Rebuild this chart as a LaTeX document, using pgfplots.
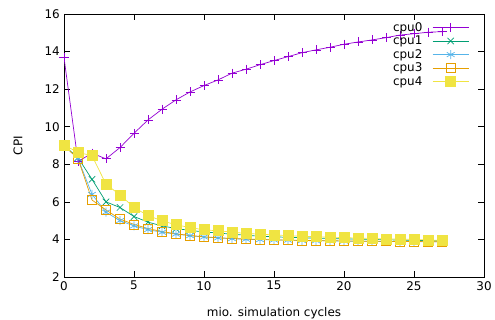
\documentclass[border=0pt]{standalone}
\usepackage{pgfplots}
\pgfplotsset{compat=1.18}
\usepackage{fontspec}
\setmainfont{DejaVu Sans}
\definecolor{c0}{HTML}{9400D3}
\definecolor{c1}{HTML}{009E73}
\definecolor{c2}{HTML}{56B4E9}
\definecolor{c3}{HTML}{E69F00}
\definecolor{c4}{HTML}{F0E442}
\begin{document}
\fontsize{12}{14}\selectfont
\begin{tikzpicture}
\begin{axis}[
  scale only axis, width=420bp, height=263bp,
  xmin=0, xmax=30, ymin=2, ymax=16,
  xtick={0,5,...,30}, ytick={2,4,...,16},
  tick align=inside, major tick length=6bp,
  tick style={black, line width=0.6pt},
  axis line style={line width=0.8pt},
  /pgf/number format/assume math mode=true,
  ticklabel style={font=\fontsize{12}{14}\selectfont},
  label style={font=\fontsize{12}{14}\selectfont},
  xlabel={mio. simulation cycles}, ylabel={CPI},
  xlabel style={yshift=-9bp}, ylabel style={yshift=14bp},
  legend plot pos=right,
  legend cell align=right,
  legend style={draw=none, fill=none, at={(rel axis cs:0.972,0.985)}, anchor=north east,
    row sep=-1bp, font=\fontsize{12}{14}\selectfont},
  legend image code/.code={%
    \path (0cm,0cm);
    \draw[mark=none] (0.28cm,0cm) -- (1.55cm,0cm);
    \draw[mark repeat=1, line width=0.7pt] plot coordinates {(0.915cm,0cm)};},
  every axis plot/.append style={line width=0.7pt},
]
\addplot[c0, mark=+, mark size=4.5bp] coordinates {
(0,13.68) (1,8.15) (2,8.59) (3,8.29) (4,8.89) (5,9.65) (6,10.36) (7,10.93) (8,11.43) (9,11.85) (10,12.19) (11,12.49) (12,12.85) (13,13.06) (14,13.3) (15,13.52) (16,13.73) (17,13.94) (18,14.09) (19,14.23) (20,14.39) (21,14.51) (22,14.62) (23,14.74) (24,14.88) (25,14.95) (26,15.03) (27,15.06)};
\addlegendentry{cpu0}
\addplot[c1, mark=x, mark size=4.5bp] coordinates {
(0,9.0) (1,8.35) (2,7.2) (3,6.0) (4,5.7) (5,5.22) (6,4.92) (7,4.72) (8,4.58) (9,4.48) (10,4.4) (11,4.34) (12,4.28) (13,4.22) (14,4.17) (15,4.14) (16,4.11) (17,4.09) (18,4.07) (19,4.05) (20,4.03) (21,4.01) (22,4.0) (23,3.98) (24,3.97) (25,3.95) (26,3.94) (27,3.92)};
\addlegendentry{cpu1}
\addplot[c2, mark=asterisk, mark size=4.5bp] coordinates {
(0,9.0) (1,8.3) (2,6.4) (3,5.45) (4,5.0) (5,4.72) (6,4.52) (7,4.38) (8,4.28) (9,4.2) (10,4.13) (11,4.08) (12,4.04) (13,4.01) (14,3.99) (15,3.97) (16,3.96) (17,3.94) (18,3.93) (19,3.92) (20,3.91) (21,3.9) (22,3.9) (23,3.89) (24,3.89) (25,3.88) (26,3.88) (27,3.87)};
\addlegendentry{cpu2}
\addplot[c3, mark=square, mark size=4.5bp] coordinates {
(0,9.0) (1,8.3) (2,6.1) (3,5.57) (4,5.08) (5,4.8) (6,4.58) (7,4.42) (8,4.3) (9,4.21) (10,4.14) (11,4.09) (12,4.05) (13,4.02) (14,4.0) (15,3.98) (16,3.96) (17,3.95) (18,3.94) (19,3.93) (20,3.92) (21,3.91) (22,3.9) (23,3.9) (24,3.89) (25,3.89) (26,3.88) (27,3.88)};
\addlegendentry{cpu3}
\addplot[c4, mark=square*, mark size=5bp] coordinates {
(0,9.03) (1,8.63) (2,8.46) (3,6.94) (4,6.37) (5,5.7) (6,5.27) (7,4.99) (8,4.78) (9,4.63) (10,4.51) (11,4.46) (12,4.39) (13,4.32) (14,4.28) (15,4.24) (16,4.2) (17,4.17) (18,4.15) (19,4.12) (20,4.1) (21,4.07) (22,4.05) (23,4.03) (24,4.02) (25,4.0) (26,3.97) (27,3.94)};
\addlegendentry{cpu4}
\end{axis}
\pgfresetboundingbox
\path[use as bounding box] ([shift={(-64bp,-43bp)}]current axis.south west) rectangle ([shift={(11bp,14bp)}]current axis.north east);
\end{tikzpicture}
\end{document}
